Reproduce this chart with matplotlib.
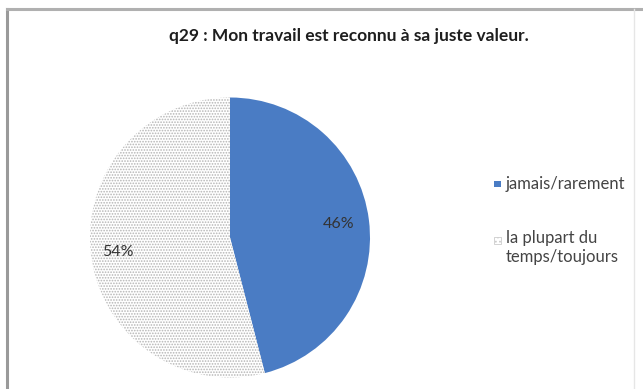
import matplotlib
matplotlib.use("Agg")
import matplotlib.pyplot as plt
import numpy as np
from matplotlib.patches import Rectangle
from matplotlib.lines import Line2D

title = "q29 : Mon travail est reconnu à sa juste valeur."
labels = ["jamais/rarement", "la plupart du\ntemps/toujours"]
values = [46, 54]

plt.rcParams["font.family"] = ["Lato", "DejaVu Sans"]
plt.rcParams["hatch.color"] = "#a8a8a8"
plt.rcParams["hatch.linewidth"] = 0.8

W, H = 643, 389
fig = plt.figure(figsize=(W / 100, H / 100), dpi=100)
fig.patch.set_facecolor("white")

# chart frame
fig.add_artist(Line2D([7 / W, 7 / W], [0, 1 - 9 / H], color="#9a9a9a", lw=2.2))
fig.add_artist(Line2D([7 / W, 1.0], [1 - 9 / H, 1 - 9 / H], color="#b0b0b0", lw=2.2))
fig.add_artist(Line2D([634 / W, 634 / W], [0, 1 - 9 / H], color="#e6e6e6", lw=1))

fig.text(349 / W, 1 - 36 / H, title, ha="center", va="center",
         fontsize=12.5, fontweight="bold", color="#1e1e1e")

# pie, centre (230, 237.5) px, radius 140 px
cx, cy, r = 230, 237.5, 140
ax = fig.add_axes([(cx - r) / W, (H - cy - r) / H, 2 * r / W, 2 * r / H])
wedges, texts = ax.pie(
    values,
    startangle=90,
    counterclock=False,
    colors=["#4a7cc4", "white"],
    wedgeprops=dict(linewidth=0),
)
wedges[1].set_hatch("......")
wedges[1].set_edgecolor("#b5b5b5")
wedges[1].set_linewidth(0)

for w, v, d in zip(wedges, values, [0.78, 0.81]):
    ang = np.deg2rad((w.theta1 + w.theta2) / 2)
    ax.text(d * np.cos(ang), d * np.sin(ang), f"{v}%", ha="center", va="center",
            fontsize=11.5, color="#333333")
ax.set_xlim(-1, 1)
ax.set_ylim(-1, 1)
ax.set_aspect("equal")

# legend
sq = 7
fig.add_artist(Rectangle(((497 - sq / 2) / W, 1 - (184 + sq / 2) / H), sq / W, sq / H,
                         facecolor="#4a7cc4", edgecolor="none"))
fig.add_artist(Rectangle(((497 - sq / 2) / W, 1 - (240 + sq / 2) / H), sq / W, sq / H,
                         facecolor="white", edgecolor="#cccccc", lw=0.6, hatch="...."))
fig.text(506 / W, 1 - 184 / H, labels[0], ha="left", va="center",
         fontsize=12, color="#444444")
fig.text(506 / W, 1 - 230 / H, labels[1], ha="left", va="top",
         fontsize=12, color="#444444", linespacing=1.25)

fig.savefig("out.png", dpi=100, facecolor="white")
